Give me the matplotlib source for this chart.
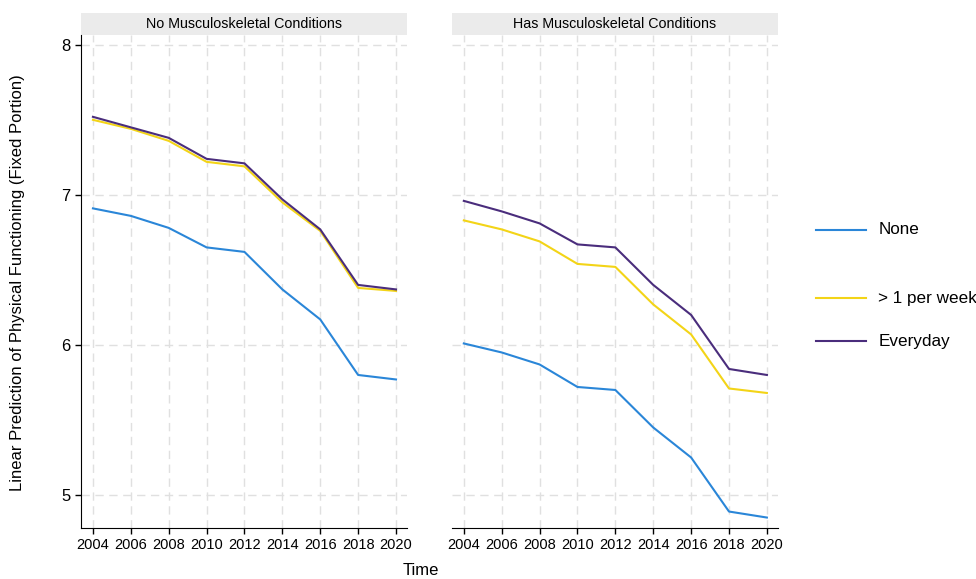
import matplotlib.pyplot as plt
from matplotlib.lines import Line2D
from matplotlib.patches import Rectangle

plt.rcParams['font.family'] = ['Liberation Sans', 'DejaVu Sans']

years = [2004, 2006, 2008, 2010, 2012, 2014, 2016, 2018, 2020]
panels = ["No Musculoskeletal Conditions", "Has Musculoskeletal Conditions"]
groups = ["None", "> 1 per week", "Everyday"]
colors = ["#2a86d8", "#f3d417", "#4a2d7c"]

# predictions, no musculoskeletal conditions
no_none = [6.91, 6.86, 6.78, 6.65, 6.62, 6.37, 6.17, 5.80, 5.77]
no_week = [7.50, 7.44, 7.36, 7.22, 7.19, 6.95, 6.76, 6.38, 6.36]
no_every = [7.52, 7.45, 7.38, 7.24, 7.21, 6.97, 6.77, 6.40, 6.37]

# predictions, has musculoskeletal conditions
has_none = [6.01, 5.95, 5.87, 5.72, 5.70, 5.45, 5.25, 4.89, 4.85]
has_week = [6.83, 6.77, 6.69, 6.54, 6.52, 6.27, 6.07, 5.71, 5.68]
has_every = [6.96, 6.89, 6.81, 6.67, 6.65, 6.40, 6.20, 5.84, 5.80]

data = [[no_none, no_week, no_every], [has_none, has_week, has_every]]

fig = plt.figure(figsize=(9.76, 5.79), dpi=100)
axes = [fig.add_axes([0.083, 0.088, 0.334, 0.852]),
        fig.add_axes([0.463, 0.088, 0.334, 0.852])]

for i, ax in enumerate(axes):
    for vals, c in zip(data[i], colors):
        ax.plot(years, vals, color=c, lw=1.5)
    ax.set_xlim(2003.37, 2020.58)
    ax.set_ylim(4.78, 8.067)
    ax.set_xticks(years)
    ax.set_yticks([5, 6, 7, 8])
    ax.grid(True, color="#e0e0e0", ls=(0, (6, 4)), lw=1)
    ax.set_axisbelow(True)
    for s in ["top", "right"]:
        ax.spines[s].set_visible(False)
    ax.tick_params(axis="x", labelsize=10.5, length=4, width=1)
    ax.tick_params(axis="y", labelsize=12, length=4, width=1)
    # strip on top
    ax.add_patch(Rectangle((0, 1.0), 1, 0.045, transform=ax.transAxes,
                           facecolor="#ebebeb", edgecolor="none", clip_on=False))
    ax.text(0.5, 1.0225, panels[i], transform=ax.transAxes, ha="center",
            va="center", fontsize=10.3)

axes[1].spines["left"].set_visible(False)
axes[1].tick_params(axis="y", left=False, labelleft=False)

fig.text(0.018, 0.512, "Linear Prediction of Physical Functioning (Fixed Portion)",
         rotation=90, ha="center", va="center", fontsize=12)
fig.text(0.431, 0.015, "Time", ha="center", va="center", fontsize=12)

# legend with uneven spacing
leg_y = [0.603, 0.485, 0.411]
for lab, c, y in zip(groups, colors, leg_y):
    fig.add_artist(Line2D([0.836, 0.887], [y, y], color=c, lw=1.5))
    fig.text(0.9, y, lab, ha="left", va="center", fontsize=12.3)

fig.savefig("out.png", dpi=100)
